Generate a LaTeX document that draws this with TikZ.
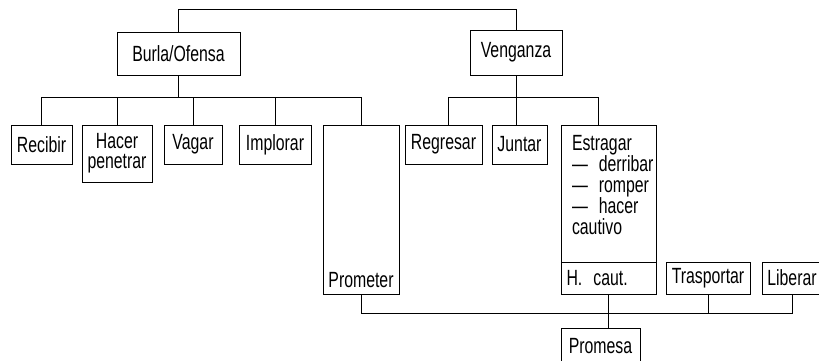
\documentclass[tikz,border=0pt]{standalone}
\usepackage{fontspec}
\setmainfont{Liberation Sans}[FakeStretch=0.72]
\usetikzlibrary{calc}

\tikzset{
	caja/.style={draw, line width=0.8pt, inner sep=0pt, align=center, font=\fontsize{22}{20}\selectfont},
	linea/.style={line width=0.7pt}
}

\begin{document}
\begin{tikzpicture}[x=1pt,y=-1pt]
			%%%%% START %%%%%
			\useasboundingbox (0,0) rectangle (819,360);
			
			\node[caja, minimum width=123, minimum height=43] (burla) at (178.5,53.5) {Burla/Ofensa};
			\node[caja, minimum width=92, minimum height=45] (veng) at (516,52.5) {Venganza};
			
			\draw[linea] (burla.north) -- ++(0,-22) -| (veng.north);
			
			\node[caja, minimum width=61, minimum height=39] (recibir) at (41.5,144.5) {Recibir};
			\node[caja, minimum width=70, minimum height=57] (hacer) at (117,153.5) {Hacer\\penetrar};
			\node[caja, minimum width=58, minimum height=39] (vagar) at (193,144.5) {Vagar};
			\node[caja, minimum width=72, minimum height=39] (implorar) at (275,144.5) {Implorar};
			\node[caja, minimum width=76, text height=162pt, text depth=7pt] (prometer) at (361,209.5) {Prometer};
			
			\node[caja, minimum width=77, minimum height=39] (regresar) at (443.5,144.5) {Regresar};
			\node[caja, minimum width=55, minimum height=39] (juntar) at (519.5,144.5) {Juntar};
			\node[caja, minimum width=95, minimum height=137] (estragar) at (608.5,193.5)
				{\hspace*{4pt}\parbox[c][117pt][t]{77pt}{\raggedright\baselineskip=21pt
				\mbox{Estragar}\\\mbox{---\enskip derribar}\\\mbox{---\enskip romper}\\\mbox{---\enskip hacer}\\\mbox{cautivo}}};
			\node[caja, minimum width=95, minimum height=32] (hcaut) at (608.5,278) {\makebox[84pt][l]{H.\enskip caut.}};
			\node[caja, minimum width=84, minimum height=32] (trasportar) at (708,278) {Trasportar};
			\node[caja, minimum width=60, minimum height=32] (liberar) at (792,278) {Liberar};
			
			\node[caja, minimum width=79, minimum height=36] (promesa) at (600.5,346) {Promesa};
			
			% ramas de Burla/Ofensa
			\coordinate (bus1) at (0,97);
			\draw[linea] (burla.south) -- (burla.south |- bus1);
			\foreach \n in {recibir,hacer,vagar,implorar,prometer}
				\draw[linea] (\n.north) |- (burla.south |- bus1);
			
			% ramas de Venganza
			\draw[linea] (veng.south) -- (veng.south |- juntar.north);
			\draw[linea] ([xshift=4.5pt]regresar.north) |- ([xshift=-10.5pt]estragar.north |- bus1) -- ([xshift=-10.5pt]estragar.north);
			
			% hacia Promesa
			\coordinate (bus2) at (0,313);
			\draw[linea] (prometer.south) |- (liberar.south |- bus2) -- (liberar.south);
			\draw[linea] (trasportar.south) -- (trasportar.south |- bus2);
			\draw[linea] (hcaut.south) -- (hcaut.south |- promesa.north);
			
			%%%%% END %%%%%
\end{tikzpicture}
\end{document}
